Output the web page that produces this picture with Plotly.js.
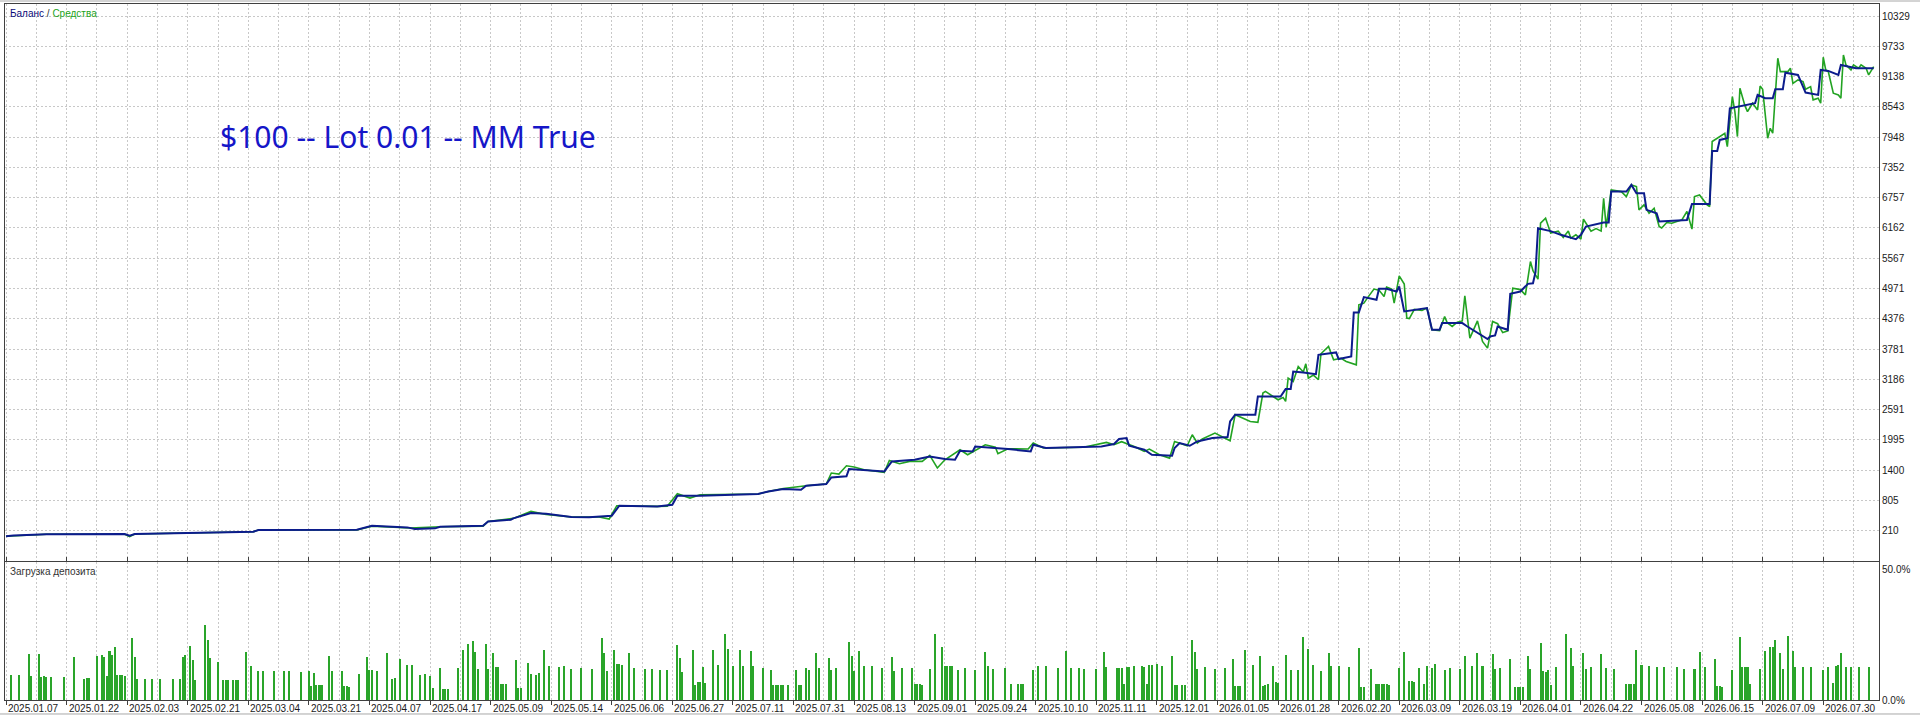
<!DOCTYPE html>
<html>
<head>
<meta charset="utf-8">
<script src="https://cdn.plot.ly/plotly-3.0.1.min.js"></script>
<style>
  html, body { margin: 0; padding: 0; background: #fff; }
  #chart { width: 1920px; height: 717px; }
</style>
</head>
<body>
<div id="chart"></div>
<script>
// trade slot -> balance after the trade
const balanceTrade = [0, 3, 16, 47, 49, 51, 98, 100, 139, 145, 159, 162, 170, 172, 189, 191, 200, 201, 208, 214,
  224, 231, 240, 243, 258, 264, 266, 275, 298, 302, 308, 315, 317, 325, 327, 333, 334, 348, 351, 360,
  366, 372, 376, 378, 383, 384, 397, 406, 407, 412, 434, 439, 441, 444, 445, 451, 454, 462, 463, 465,
  469, 472, 478, 484, 485, 487, 495, 496, 505, 507, 509, 510, 514, 519, 520, 527, 528, 533, 534, 536,
  538, 543, 544, 547, 551, 552, 554, 563, 565, 568, 569, 577, 579, 585, 587, 588, 590, 591, 595, 596,
  600, 603, 605, 606, 607, 612, 616, 622, 624, 626, 633, 635, 636, 642, 644, 646, 649, 650, 654, 655,
  666, 668, 675, 676, 678, 679, 682, 683, 688, 693, 694, 697, 700, 701, 704, 705, 710, 712, 713, 718,
  719, 722, 726, 727, 733, 740]
const balance = [100, 115, 140, 145, 110, 145, 190, 223, 230, 308, 275, 243, 256, 289, 308, 393, 426, 452, 558, 544,
  479, 472, 505, 701, 688, 721, 898, 898, 931, 982, 1029, 1016, 1094, 1128, 1258, 1278, 1422, 1375, 1572, 1605,
  1670, 1619, 1605, 1782, 1769, 1866, 1815, 1768, 1900, 1835, 1866, 1913, 2012, 2031, 1880, 1802, 1703, 1684, 1835, 1933,
  1880, 1965, 2031, 2051, 2358, 2490, 2490, 2849, 2849, 2994, 2994, 3340, 3320, 3287, 3668, 3714, 3584, 3636, 4500, 4500,
  4802, 4750, 4965, 4965, 4912, 5011, 4520, 4586, 4160, 4160, 4291, 4291, 4225, 4028, 3977, 4028, 4050, 4225, 4160, 4867,
  4912, 5063, 5075, 5294, 6158, 6100, 6027, 5942, 6027, 6190, 6268, 6268, 6877, 6877, 7009, 6845, 6845, 6518, 6452, 6288,
  6320, 6635, 6635, 7677, 7677, 7893, 7926, 8516, 8561, 8614, 8777, 8712, 8712, 8888, 8888, 9215, 9170, 8941, 8823, 8777,
  9269, 9250, 9170, 9367, 9301, 9301]

// trade slot -> equity
const equityTrade = [0, 16, 47, 49, 51, 98, 100, 139, 145, 160, 172, 189, 191, 201, 208, 214, 224, 235, 239, 242,
  258, 262, 266, 271, 275, 298, 302, 308, 317, 325, 327, 330, 333, 336, 340, 348, 350, 354, 358, 363,
  366, 369, 372, 378, 381, 388, 392, 393, 397, 405, 407, 411, 427, 436, 439, 442, 447, 451, 453, 457,
  461, 463, 468, 470, 472, 474, 479, 485, 487, 493, 496, 498, 499, 502, 504, 506, 507, 508, 510, 512,
  514, 515, 516, 518, 520, 521, 524, 526, 529, 531, 535, 536, 538, 540, 542, 544, 546, 547, 549, 550,
  552, 554, 555, 556, 558, 561, 563, 565, 568, 570, 571, 573, 575, 577, 578, 580, 581, 583, 585, 587,
  589, 591, 593, 595, 597, 600, 602, 604, 605, 607, 608, 610, 612, 615, 617, 619, 620, 622, 624, 625,
  628, 630, 632, 633, 634, 636, 640, 642, 644, 646, 647, 649, 651, 653, 655, 656, 658, 660, 662, 664,
  666, 668, 669, 671, 674, 675, 676, 679, 681, 682, 684, 685, 686, 687, 689, 690, 692, 694, 695, 696,
  698, 699, 700, 702, 703, 706, 707, 708, 710, 712, 713, 715, 716, 718, 719, 720, 721, 722, 724, 726,
  727, 728, 729, 731, 732, 734, 735, 737, 738, 740]
const equity = [100, 140, 140, 95, 145, 190, 223, 225, 300, 262, 289, 300, 393, 452, 589, 530, 479, 480, 440, 701,
  688, 690, 937, 852, 917, 931, 982, 1040, 1094, 1128, 1344, 1324, 1487, 1462, 1409, 1356, 1592, 1527, 1572, 1572,
  1690, 1442, 1605, 1800, 1703, 1900, 1850, 1723, 1822, 1815, 1933, 1835, 1850, 1946, 1900, 1960, 1866, 1768, 1815, 1703,
  1637, 1965, 1880, 2097, 1935, 2012, 2129, 1978, 2490, 2358, 2339, 2916, 2948, 2849, 2784, 2830, 2751, 3210, 3145, 3438,
  3330, 3490, 3210, 3270, 3178, 3688, 3832, 3570, 3600, 3537, 3470, 4651, 4683, 4827, 4960, 4940, 4815, 5000, 4960, 4684,
  5221, 5060, 4390, 4380, 4560, 4540, 4586, 4160, 4144, 4421, 4300, 4225, 4310, 4334, 4827, 3996, 4100, 4334, 3930, 3799,
  4323, 4280, 4106, 4137, 4979, 4950, 4847, 5502, 5320, 5156, 6256, 6354, 6060, 6100, 5975, 6100, 5962, 6027, 5942, 6334,
  6100, 6150, 6100, 6747, 6179, 6910, 6877, 6779, 7009, 6977, 6518, 6617, 6452, 6551, 6190, 6160, 6268, 6256, 6288, 6320,
  6485, 6139, 6779, 6812, 6617, 6583, 7861, 7959, 8024, 7762, 8744, 8450, 7959, 8908, 8561, 8450, 8614, 8483, 8953, 8888,
  7926, 8122, 8024, 9498, 9236, 9236, 9302, 9006, 9072, 9040, 8888, 8941, 8680, 8712, 8614, 9518, 9269, 9236, 8811, 8777,
  8712, 9563, 9367, 9269, 9367, 9302, 9367, 9302, 9170, 9334]

// trade slot -> deposit load, %
const loadTrade = [2, 5, 9, 10, 13, 14, 15, 16, 18, 23, 27, 31, 32, 33, 36, 38, 39, 40, 41, 42,
  43, 44, 45, 46, 47, 50, 51, 52, 55, 58, 61, 66, 69, 70, 71, 73, 74, 75, 79, 80,
  81, 84, 86, 87, 88, 90, 91, 92, 95, 97, 100, 102, 106, 110, 112, 117, 120, 121, 122, 123,
  124, 125, 128, 129, 133, 134, 135, 136, 140, 143, 144, 145, 147, 151, 153, 154,
  156, 159, 161, 164, 166, 168, 169, 172, 173, 174, 175, 179, 181, 183, 185, 186, 187, 190, 191, 193,
  194, 195, 196, 197, 198, 202, 203, 204, 207, 208, 210, 211, 213, 215, 219, 221, 224, 228, 232, 236,
  237, 238, 241, 242, 243, 244, 247, 249, 253, 256, 259, 262, 266, 267, 268, 272, 273, 274, 275, 276,
  277, 280, 282, 285, 286, 288, 291, 292, 295, 296, 300, 303, 304, 305, 306, 307, 308, 310, 313, 314,
  315, 317, 318, 321, 322, 326, 327, 329, 334, 335, 336, 338, 340, 343, 347, 351, 352, 355, 359, 360,
  361, 362, 363, 366, 368, 371, 372, 373, 374, 375,
  377, 380, 384, 388, 389, 391, 396, 398, 401, 402, 403, 407, 409, 412, 417, 420, 422, 425, 427, 432,
  435, 436, 440, 441, 442, 443, 444, 445, 447, 450, 451, 452, 453, 454, 456, 458, 462, 463, 464, 466,
  467, 470, 471, 472, 475, 479, 483, 486, 487, 488, 489, 491, 494, 497, 498, 499, 500, 502, 503, 504,
  507, 509, 512, 514, 516, 518, 521, 524, 525, 528, 532, 536, 537, 538, 541, 543, 544, 545, 546, 547,
  548, 552, 554, 556, 557, 558, 560, 562, 563, 565, 566, 570, 572, 576, 578, 581, 583, 585, 589, 590,
  592, 596, 598, 599, 600, 601, 603, 604, 608, 609, 610, 611, 612, 614, 618, 620, 621, 625, 626, 628,
  632, 634, 637, 642, 643, 644, 645, 646, 648, 651, 654, 657, 662, 665, 669, 671, 673, 677, 678, 679,
  680, 684, 687, 688, 689, 690, 691, 695, 697, 699, 700, 701, 703, 704, 706, 708, 709, 712, 715, 720,
  722, 724, 725, 726, 727, 729, 731, 734, 738]
const loadPct = [9.5, 9.5, 17.6, 9.2, 17.6, 8.9, 9.2, 8.6, 8.6, 8.6, 16.3, 8.1, 8.3, 8.5, 16.7, 17.1, 16.5, 9.2, 18.7, 17.1,
  20.1, 9.6, 9.6, 9.5, 9.2, 23.7, 16.4, 8.1, 8.1, 8.1, 8.1, 8.1, 8.1, 16.3, 17.1, 20.6, 15.4, 7.7, 28.5, 23.1,
  15.9, 14.4, 7.6, 7.6, 7.6, 7.6, 7.6, 7.6, 18.5, 13.0, 11.2, 11.0, 11.0, 11.2, 11.2, 10.6, 10.9, 5.4, 10.5, 5.6,
  5.6, 5.6, 16.7, 11.2, 11.0, 5.4, 5.4, 5.1, 9.9, 16.4, 11.5, 11.5, 10.9, 17.9, 8.1, 8.3,
  15.6, 13.5, 13.5, 9.6, 9.9, 9.2, 4.7, 12.4, 4.1, 4.1, 4.1, 12.2, 19.1, 21.4, 22.7, 18.2, 11.8, 21.4, 11.8, 17.8,
  12.6, 12.6, 6.0, 6.0, 6.0, 15.1, 4.7, 4.7, 14.2, 10.1, 9.7, 10.4, 19.1, 13.1, 12.7, 13.1, 11.8, 12.2, 11.8, 23.7,
  17.9, 11.2, 19.2, 13.8, 13.8, 13.5, 17.9, 12.2, 11.8, 11.8, 11.5, 11.4, 21.0, 16.0, 10.8, 19.1, 5.6, 6.9, 7.0, 12.7,
  6.4, 19.1, 13.5, 25.3, 19.6, 13.1, 19.1, 13.1, 18.6, 13.1, 12.2, 11.6, 5.8, 5.8, 5.8, 5.8, 5.8, 5.7, 11.6, 5.7,
  5.7, 12.2, 11.6, 17.8, 12.4, 16.0, 11.4, 12.1, 22.3, 16.8, 11.2, 18.7, 13.1, 13.1, 12.1, 16.3, 11.2, 12.2, 12.1, 6.0,
  6.0, 6.0, 5.8, 11.8, 25.3, 20.1, 13.1, 13.1, 13.1, 12.9,
  11.6, 12.2, 11.6, 18.5, 12.8, 11.9, 12.2, 6.0, 6.0, 6.0, 6.0, 11.6, 12.8, 12.8, 12.4, 18.9, 12.2, 12.2, 11.9, 11.9,
  18.5, 12.7, 12.2, 12.4, 12.2, 6.0, 12.7, 12.7, 13.0, 12.9, 12.7, 6.0, 13.4, 13.4, 13.6, 12.9, 16.8, 5.7, 5.7, 5.7,
  5.7, 23.1, 18.2, 11.8, 12.7, 11.9, 12.2, 15.8, 5.2, 5.2, 5.2, 19.1, 13.4, 16.7, 5.2, 5.7, 6.3, 12.9, 6.9, 6.5,
  17.3, 11.6, 11.6, 24.2, 19.6, 13.4, 11.2, 17.9, 12.8, 12.8, 12.7, 20.0, 5.1, 4.9, 11.8, 6.0, 6.0, 6.0, 6.0, 6.0,
  5.8, 12.1, 18.5, 7.1, 7.1, 6.9, 12.2, 6.0, 12.8, 12.2, 13.6, 11.5, 12.4, 11.9, 16.7, 13.1, 17.9, 13.1, 17.6, 11.8,
  12.2, 15.6, 5.1, 5.1, 5.1, 5.1, 16.9, 12.0, 21.7, 11.0, 10.8, 11.4, 5.7, 12.7, 25.3, 19.7, 12.9, 17.8, 12.0, 12.7,
  17.6, 12.2, 12.0, 6.0, 6.2, 6.2, 6.0, 19.1, 13.5, 13.0, 12.7, 12.7, 12.7, 11.9, 11.9, 18.3, 12.7, 15.8, 5.4, 5.4,
  5.0, 11.4, 24.0, 12.7, 12.7, 12.7, 6.2, 11.8, 18.8, 20.1, 20.4, 23.0, 17.8, 11.8, 24.6, 18.8, 12.7, 12.7, 12.7, 11.5,
  12.7, 6.6, 13.1, 13.5, 17.9, 12.7, 12.5, 12.5, 12.7]

const dateLabels = ['2025.01.07', '2025.01.22', '2025.02.03', '2025.02.21', '2025.03.04', '2025.03.21',
  '2025.04.07', '2025.04.17', '2025.05.09', '2025.05.14', '2025.06.06', '2025.06.27', '2025.07.11',
  '2025.07.31', '2025.08.13', '2025.09.01', '2025.09.24', '2025.10.10', '2025.11.11', '2025.12.01',
  '2026.01.05', '2026.01.28', '2026.02.20', '2026.03.09', '2026.03.19', '2026.04.01', '2026.04.22',
  '2026.05.08', '2026.06.15', '2026.07.09', '2026.07.30']
const dateTrade = dateLabels.map((d, i) => i * 24)

const balanceTicks = [210, 805, 1400, 1995, 2591, 3186, 3781, 4376, 4971, 5567, 6162, 6757,
  7352, 7948, 8543, 9138, 9733, 10329]

const lineColor = '#404040'
const grid = { showgrid: true, gridcolor: '#c8c8c8', griddash: '2px,2px', gridwidth: 1 }

const traces = [
  {
    x: equityTrade, y: equity, xaxis: 'x', yaxis: 'y',
    type: 'scatter', mode: 'lines', name: 'Средства',
    line: { color: '#22a322', width: 1.6 }
  },
  {
    x: balanceTrade, y: balance, xaxis: 'x', yaxis: 'y',
    type: 'scatter', mode: 'lines', name: 'Баланс',
    line: { color: '#0c1c8c', width: 2 }
  },
  {
    x: loadTrade, y: loadPct, xaxis: 'x', yaxis: 'y2',
    type: 'bar', name: 'Загрузка депозита', width: 0.8,
    marker: { color: '#2aa52a', line: { width: 0 } }
  }
]

const annotations = dateLabels.map((d, i) => ({
  text: d, x: dateTrade[i], xref: 'x', y: 0, yref: 'paper',
  xanchor: 'left', yanchor: 'top', yshift: -1, showarrow: false,
  font: { size: 10, color: '#1a1a1a' }
}))

annotations.push({
  text: '<span style="color:#0a0a78">Баланс</span> / <span style="color:#22a322">Средства</span>',
  x: 0.0016, xref: 'paper', y: 0.987, yref: 'paper',
  xanchor: 'left', yanchor: 'middle', showarrow: false,
  font: { size: 10, color: '#333' }
})
annotations.push({
  text: 'Загрузка депозита',
  x: 0.0016, xref: 'paper', y: 0.185, yref: 'paper',
  xanchor: 'left', yanchor: 'middle', showarrow: false,
  font: { size: 10, color: '#333' }
})
annotations.push({
  text: '$100 -- Lot 0.01 -- MM True',
  x: 0.1137, xref: 'paper', y: 0.809, yref: 'paper',
  xanchor: 'left', yanchor: 'middle', showarrow: false,
  font: { family: 'Noto Sans, sans-serif', size: 30, color: '#1616c8' }
})

const layout = {
  width: 1920,
  height: 717,
  margin: { l: 5, r: 41, t: 4, b: 17 },
  paper_bgcolor: '#fff',
  plot_bgcolor: '#fff',
  showlegend: false,
  hovermode: false,
  bargap: 0,
  font: { family: 'Liberation Sans, Arial, sans-serif', size: 10, color: '#1a1a1a' },
  xaxis: {
    anchor: 'y2',
    range: [-0.4, 742.1],
    tickmode: 'array',
    tickvals: dateTrade,
    showticklabels: false,
    ticks: 'outside', ticklen: 4, tickcolor: lineColor,
    ...grid,
    minor: { tick0: 0, dtick: 12, showgrid: true, gridcolor: '#c8c8c8', griddash: '2px,2px', ticks: '' },
    showline: true, linecolor: lineColor, linewidth: 1, mirror: 'all',
    zeroline: false
  },
  yaxis: {
    domain: [0.1997, 1],
    side: 'right',
    range: [-386, 10565],
    tickmode: 'array',
    tickvals: balanceTicks,
    ticktext: balanceTicks.map(String),
    ticks: '',
    ...grid,
    showline: true, linecolor: lineColor, linewidth: 1, mirror: 'all',
    zeroline: false
  },
  yaxis2: {
    domain: [0, 0.1983],
    side: 'right',
    range: [0, 52.7],
    tickmode: 'array',
    tickvals: [0, 50],
    ticktext: ['0.0%', '50.0%'],
    ticks: '',
    showgrid: false,
    showline: true, linecolor: lineColor, linewidth: 1, mirror: 'all',
    zeroline: false
  },
  annotations,
  shapes: [
    { type: 'line', xref: 'paper', yref: 'paper', x0: -0.003, x1: 1.022, y0: 1.0043, y1: 1.0043,
      line: { color: '#a8a8a8', width: 1 } },
    { type: 'line', xref: 'paper', yref: 'paper', x0: -0.003, x1: 1.022, y0: -0.0201, y1: -0.0201,
      line: { color: '#a8a8a8', width: 1 } }
  ]
}

Plotly.newPlot('chart', traces, layout, { displayModeBar: false, staticPlot: true })
</script>
</body>
</html>
